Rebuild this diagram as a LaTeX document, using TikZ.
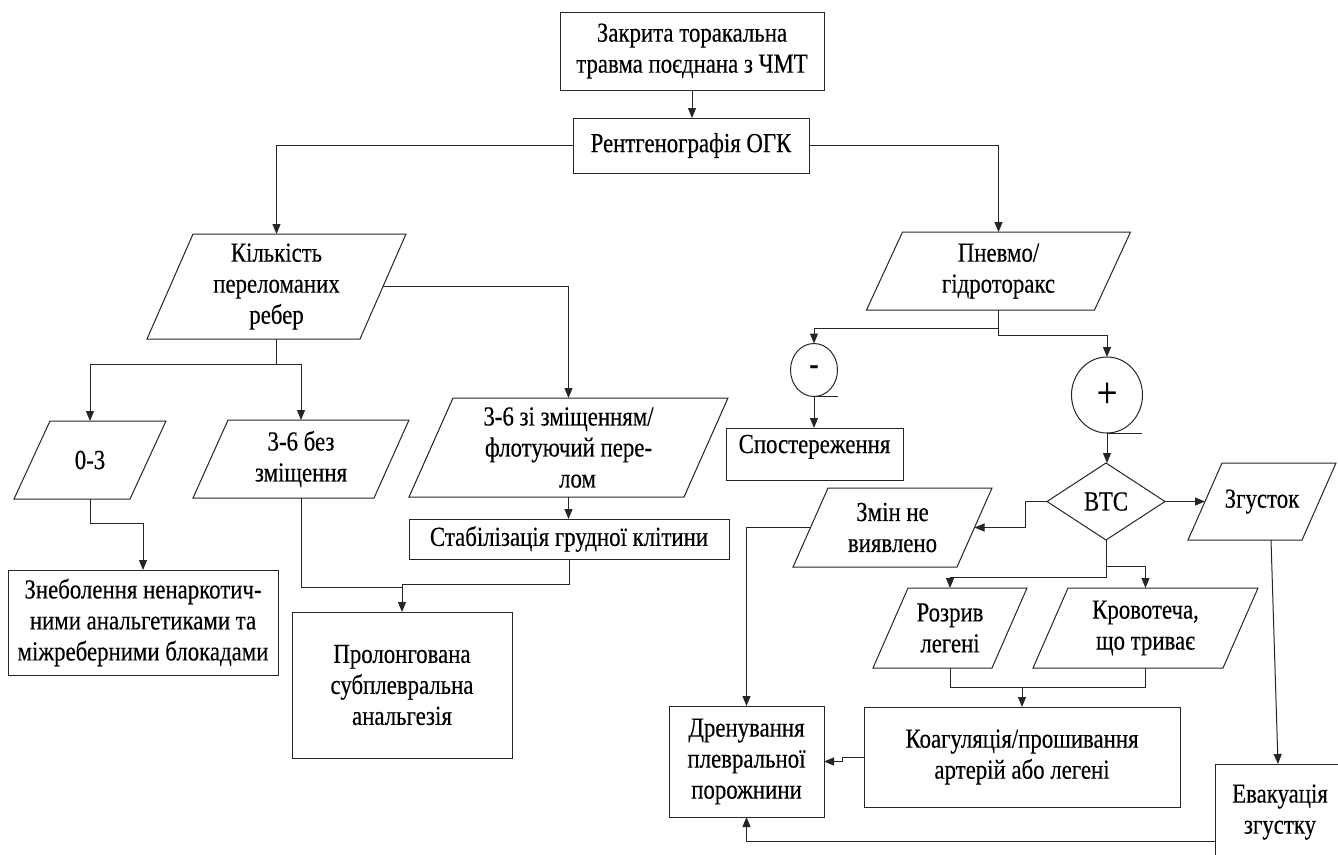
\documentclass[tikz,border=0pt]{standalone}
\usepackage{fontspec}
\setmainfont{Liberation Serif}[FakeStretch=0.83,FakeBold=0.3]
\usetikzlibrary{shapes.geometric,arrows.meta,calc}
\tikzset{
  ln/.style={draw=black!85, line width=1pt},
  txt/.style={font=\rmfamily\fontsize{27.5}{31}\selectfont, align=center, inner sep=0pt, outer sep=0pt},
  box/.style={txt, ln, rectangle},
  para/.style={txt, rectangle, draw=none},
  dia/.style={txt, ln, diamond, aspect=1.5},
  circ/.style={txt, ln, ellipse},
  arr/.style={ln, -{Triangle[length=10pt,width=8pt]}}
}
\newcommand\drawpara[2]{\draw[ln] ($(#1.north west)+(#2/2,0)$) -- ($(#1.north east)+(#2/2,0)$) -- ($(#1.south east)+(-#2/2,0)$) -- ($(#1.south west)+(-#2/2,0)$) -- cycle;}
\begin{document}
\begin{tikzpicture}[x=1pt,y=-1pt]
\path[use as bounding box, clip] (0,0) rectangle (1338,854);
\fill[white] (0,0) rectangle (1338,854);

\node[box, minimum width=264pt, minimum height=78pt] (top) at (692,51) {Закрита торакальна\\травма поєднана з ЧМТ};
\node[box, minimum width=236pt, minimum height=55pt] (rtg) at (691,145.5) {Рентгенографія ОГК};
\node[para, minimum width=213pt, minimum height=105pt] (kilk) at (276.5,286.5) {Кількість\\переломаних\\ребер};
\node[para, minimum width=228pt, minimum height=78pt] (pnev) at (998.5,271) {Пневмо/\\гідроторакс};
\node[para, minimum width=116pt, minimum height=78pt] (p03) at (90,460) {0-3};
\node[para, minimum width=181pt, minimum height=78pt] (p36b) at (301,459) {3-6 без\\зміщення};
\node[para, minimum width=275pt, minimum height=99pt] (p36z) at (568.5,447.5) {3-6 зі зміщенням/\\флотуючий пере-\\\hspace*{18pt}лом};
\node[box, minimum width=320pt, minimum height=40pt] (stab) at (569,539) {Стабілізація грудної клітини};
\node[box, minimum width=270pt, minimum height=105pt] (znb) at (143,622.5) {Знеболення ненаркотич-\\ними анальгетиками та\\міжреберними блокадами};
\node[box, minimum width=220pt, minimum height=146pt] (prol) at (402,685) {Пролонгована\\субплевральна\\анальгезія};
\node[circ, minimum width=47pt, minimum height=53pt] (minus) at (814,370) {\fontsize{34}{34}\selectfont\bfseries -};
\node[circ, minimum width=71pt, minimum height=76pt] (plus) at (1107,395) {\fontsize{44}{44}\selectfont +};
\node[box, minimum width=177pt, minimum height=52pt, text height=19pt, text depth=21pt] (spost) at (814.5,454) {Спостереження};
\node[dia, minimum width=118pt, minimum height=77pt] (btc) at (1106,501.5) {ВТС};
\node[para, minimum width=164pt, minimum height=79pt] (zmin) at (892.5,527.5) {Змін не\\виявлено};
\node[para, minimum width=114pt, minimum height=77pt] (zgus) at (1262,501.5) {Згусток};
\node[para, minimum width=119pt, minimum height=80pt] (rozr) at (950,628) {Розрив\\легені};
\node[para, minimum width=190pt, minimum height=80pt] (krov) at (1145.5,628) {Кровотеча,\\що триває};
\node[box, minimum width=316pt, minimum height=100pt] (koag) at (1022,757) {Коагуляція/прошивання\\артерій або легені};
\node[box, minimum width=155pt, minimum height=111pt] (dren) at (746.5,761.5) {Дренування\\плевральної\\порожнини};
\node[box, minimum width=130pt, minimum height=96pt] (evak) at (1280,812) {Евакуація\\згустку};

\drawpara{kilk}{46}
\drawpara{pnev}{36}
\drawpara{p03}{36}
\drawpara{p36b}{35}
\drawpara{p36z}{44}
\drawpara{zmin}{35}
\drawpara{zgus}{34}
\drawpara{rozr}{35}
\drawpara{krov}{35}

% connectors
\draw[arr] (top.south) -- (top.south |- rtg.north);
\draw[arr] (rtg.west) -| (kilk.north);
\draw[arr] (rtg.east) -| (pnev.north);
\draw[ln] (kilk.south) -- ++(0,25) coordinate (k1);
\draw[arr] (k1) -| (p03.north);
\draw[arr] (k1) -| (p36b.north);
\draw[arr] (kilk.east) -| (p36z.north);
\draw[arr] (p36z.south) -- (p36z.south |- stab.north);
\draw[arr] (p03.south) -- ++(0,24) -| (znb.north);
\draw[arr] (stab.south) -- ++(0,25) -| (prol.north);
\draw[ln] (p36b.south) |- ($(prol.north)+(0,-25)$);

\draw[arr] (pnev.south) -- ++(0,18) -| (minus.north);
\draw[arr] (pnev.south) -- ++(0,25) -| (plus.north);
\draw[ln] (minus.south) -- ++(24,0);
\draw[ln] (plus.south) -- ++(35,0);
\draw[arr] (minus.south) -- (minus.south |- spost.north);
\draw[arr] (plus.south) -- (plus.south |- btc.north);

\draw[arr] (btc.west) -- ++(-22,0) |- (zmin.east);
\draw[arr] (btc.east) -- (zgus.west);
\draw[arr] (btc.south) -- ++(0,37) -| (rozr.north);
\draw[arr] ($(btc.south)+(0,26)$) -| (krov.north);
\draw[ln] (rozr.south) -- ++(0,19) coordinate (rk) -| (krov.south);
\draw[arr] (koag.north |- rk) -- (koag.north);
\draw[arr] (koag.west) -- ++(-22,0) |- (dren.east);
\draw[arr] (zmin.west) -| (dren.north);
\draw[arr] ($(zgus.south)+(9,0)$) -- ($(evak.north)+(-2,0)$);
\draw[arr] ($(evak.west)+(0,29)$) -| (dren.south);
\end{tikzpicture}
\end{document}
